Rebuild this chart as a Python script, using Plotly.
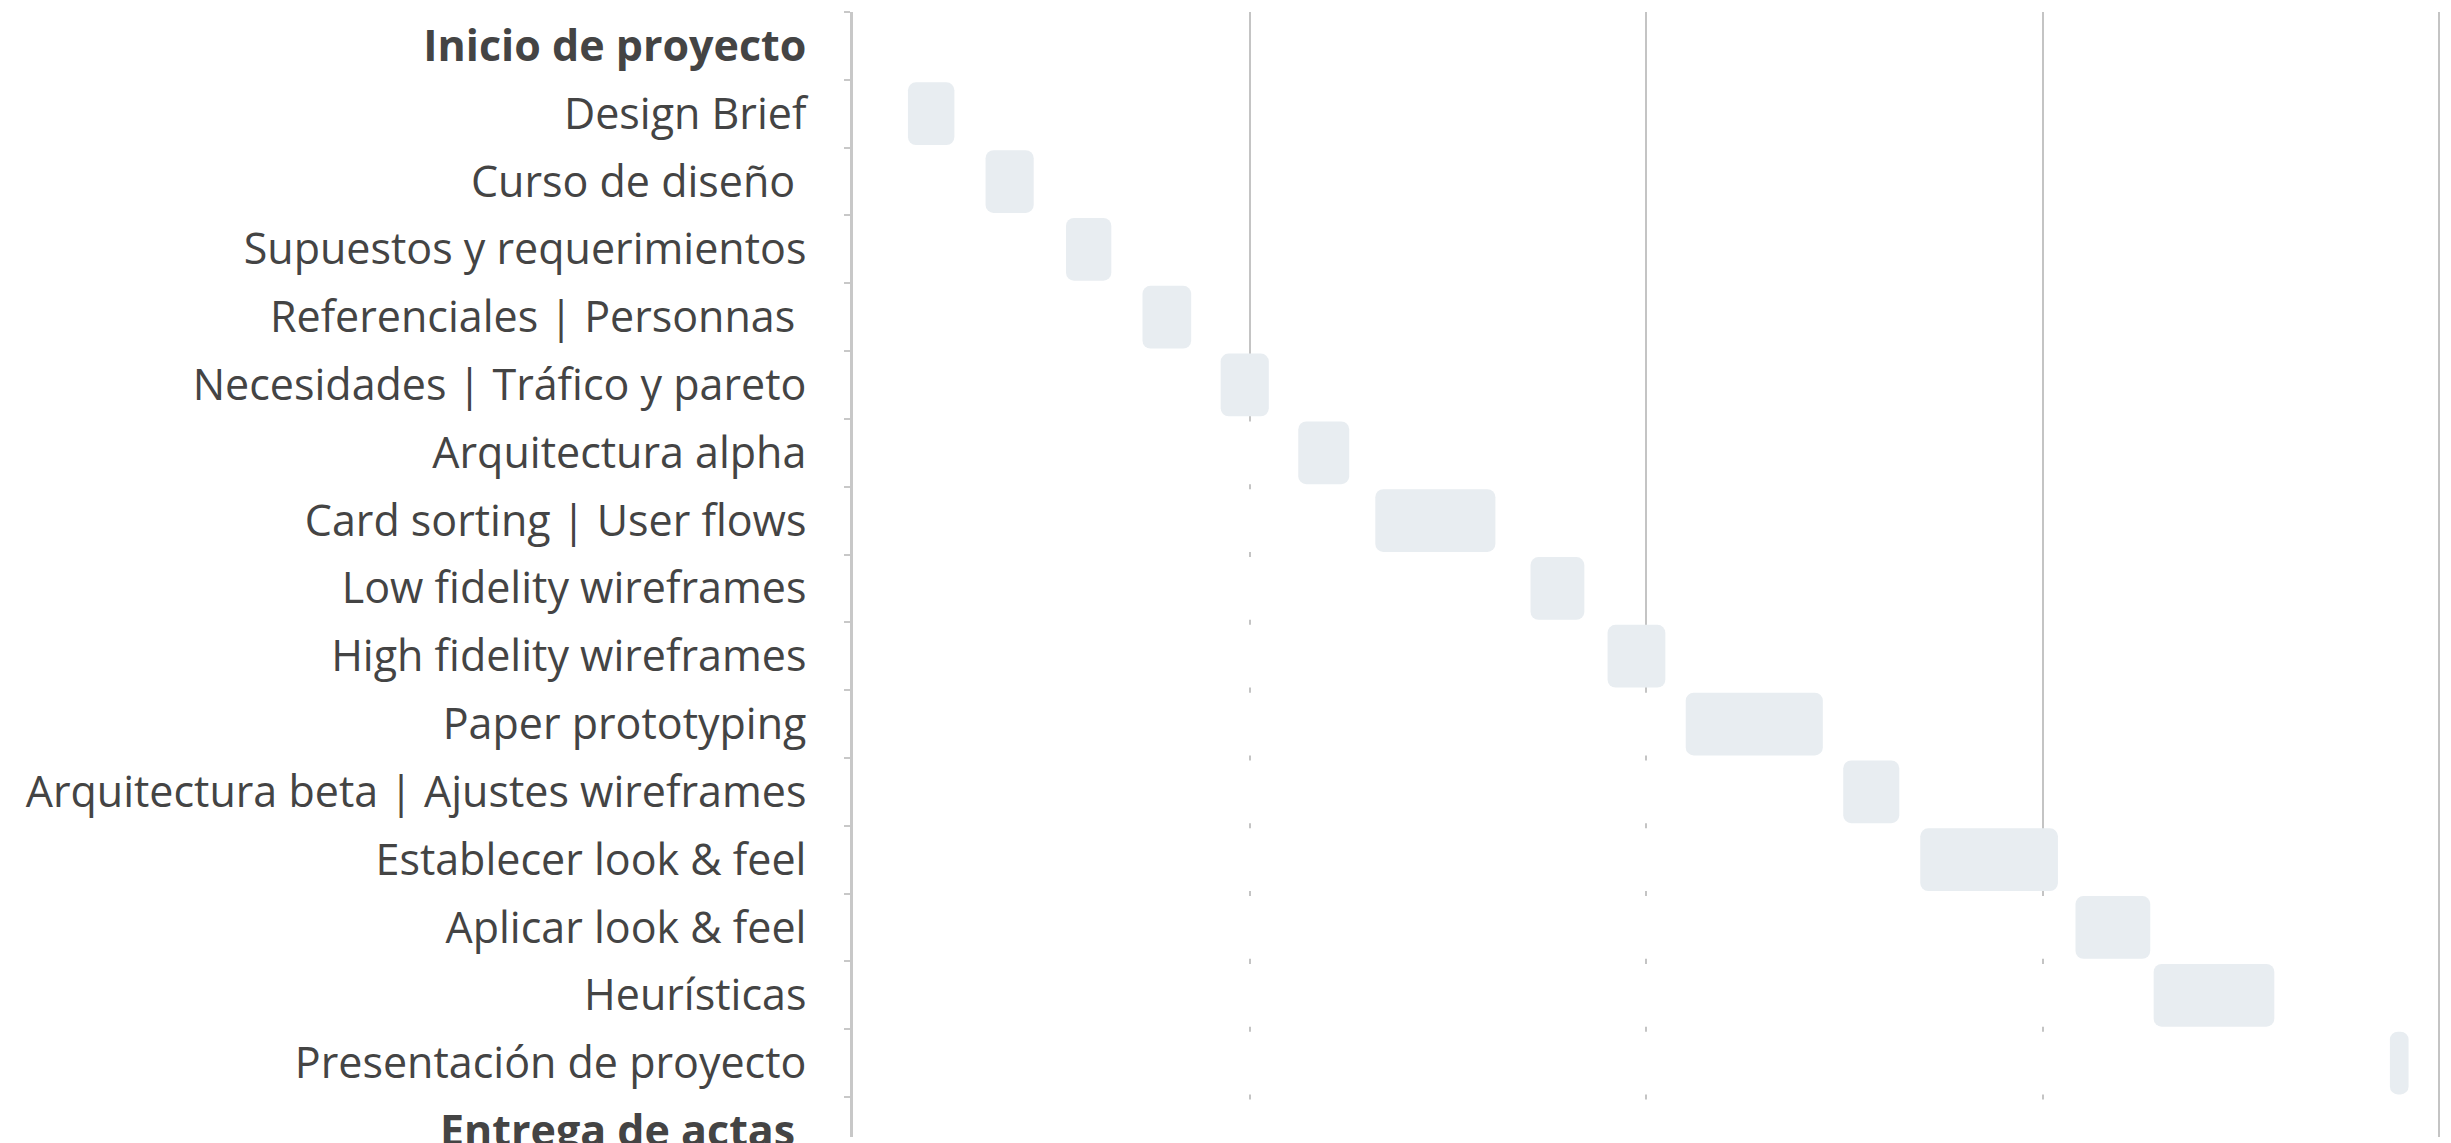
import plotly.graph_objects as go

tasks = [
    "<b>Inicio de proyecto</b>",
    "Design Brief",
    "Curso de diseño\u00a0",
    "Supuestos y requerimientos",
    "Referenciales | Personnas\u00a0",
    "Necesidades | Tráfico y pareto",
    "Arquitectura alpha",
    "Card sorting | User flows",
    "Low fidelity wireframes",
    "High fidelity wireframes",
    "Paper prototyping",
    "Arquitectura beta | Ajustes wireframes",
    "Establecer look & feel",
    "Aplicar look & feel",
    "Heurísticas",
    "Presentación de proyecto",
    "<b>Entrega de actas\u00a0</b>",
]

# start / end of each task, in days from project start
start_day = [0.0, 0.97, 2.34, 3.76, 5.11, 6.49, 7.86, 9.22, 11.96, 13.32,
             14.70, 17.48, 18.84, 21.58, 22.96, 27.13, 27.79]
end_day = [0.0, 1.79, 3.19, 4.56, 5.97, 7.34, 8.76, 11.34, 12.91, 14.34,
           17.12, 18.47, 21.27, 22.90, 25.09, 27.46, 27.79]

duration = [e - s for s, e in zip(start_day, end_day)]

fig = go.Figure()
# white offset bars (hide the gridlines before each task starts)
fig.add_bar(
    y=tasks, x=start_day, base=0, orientation="h",
    marker=dict(color="#ffffff", line=dict(width=0)),
    hoverinfo="skip", showlegend=False,
)
# task bars
fig.add_bar(
    y=tasks, x=duration, base=start_day, orientation="h",
    marker=dict(color="#e8edf1", line=dict(width=0), cornerradius=8),
    showlegend=False,
)

fig.update_layout(
    width=2451, height=1143,
    margin=dict(l=853, r=9, t=12, b=6, autoexpand=False),
    paper_bgcolor="#ffffff", plot_bgcolor="#ffffff",
    barmode="overlay", bargap=0.075,
    font=dict(family="Open Sans", size=43, color="#444444", weight=400),
    xaxis=dict(
        range=[0, 28.05], tick0=0, dtick=7, showgrid=True,
        gridcolor="#c4c4c4", gridwidth=2, zeroline=False,
        showticklabels=False, ticks="", showline=False, automargin=False,
    ),
    yaxis=dict(
        type="category", range=[16.09, -0.5], tickson="boundaries",
        ticks="outside", ticklen=6, tickwidth=2, tickcolor="#c8c8c8",
        showline=True, linecolor="#c8c8c8", linewidth=3, automargin=False,
        showgrid=False, zeroline=False, ticklabelstandoff=35,
    ),
)

fig.write_html("out.html")
